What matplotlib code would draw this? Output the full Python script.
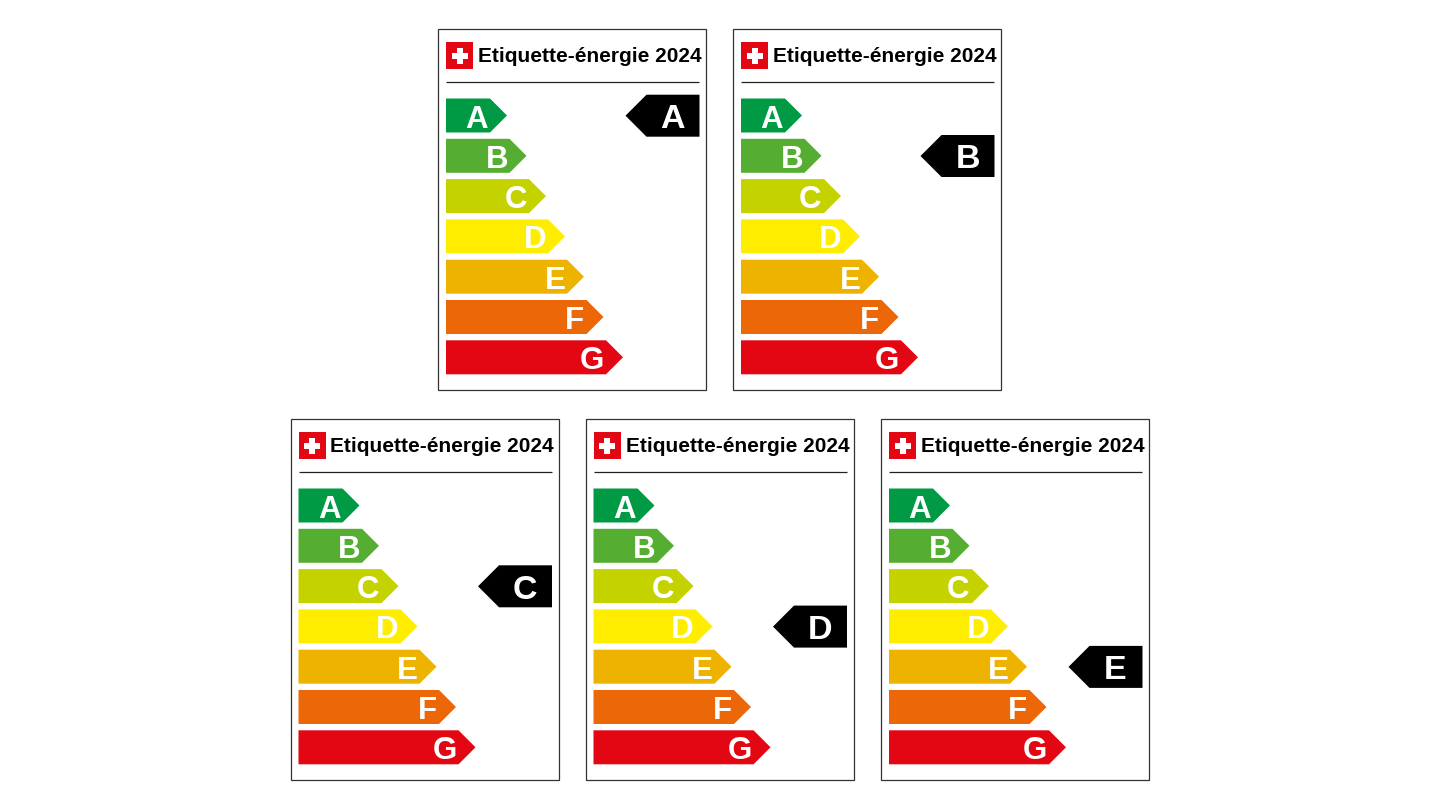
import matplotlib
matplotlib.use("Agg")
import matplotlib.pyplot as plt
from matplotlib.patches import Polygon, Rectangle

# energy classes, bar length in px (tip to tail) and colours
classes = ["A", "B", "C", "D", "E", "F", "G"]
bar_lengths = [61, 80.5, 100, 119, 138, 157.5, 177]
bar_colors = ["#009A44", "#55AE32", "#C4D200", "#FFED00", "#EEB200", "#EC6707", "#E30613"]
# letters are not centred the same way on every arrow
letter_shift = [0, 0.5, -0.5, 0, 1, 1, -1]

title = "Etiquette-énergie 2024"
ratings = ["A", "B", "C", "D", "E"]
card_left = [438, 733, 290.5, 585.5, 881]
card_top = [29, 29, 419, 419, 419]

plt.rcParams['font.family'] = ['Liberation Sans', 'DejaVu Sans']

fig = plt.figure(figsize=(14.4, 8.1), dpi=100)
ax = fig.add_axes([0, 0, 1, 1])
ax.set_xlim(0, 1440)
ax.set_ylim(810, 0)
ax.axis("off")


def draw_card(x0, y0, rating):
    # frame
    ax.add_patch(Rectangle((x0, y0), 268, 361, fc="white", ec="#333333", lw=0.9))

    # swiss flag
    fx = x0 + 8
    fy = y0 + 13
    ax.add_patch(Rectangle((fx, fy), 27, 27, fc="#E30613", ec="none"))
    ax.add_patch(Rectangle((fx + 10.5, fy + 5.5), 6, 16, fc="white", ec="none"))
    ax.add_patch(Rectangle((fx + 5.5, fy + 10.5), 16, 6, fc="white", ec="none"))

    ax.text(x0 + 40, y0 + 28, title, fontsize=15, fontweight="bold",
            ha="left", va="center", color="black")
    ax.plot([x0 + 8, x0 + 261], [y0 + 53, y0 + 53], color="#222222", lw=0.9,
            solid_capstyle="butt")

    # class arrows
    for i, (c, length, col) in enumerate(zip(classes, bar_lengths, bar_colors)):
        top = y0 + 69.5 + i * 40.3
        bot = top + 34
        left = x0 + 8
        tip = left + length
        ax.add_patch(Polygon([(left, top), (tip - 17, top), (tip, (top + bot) / 2),
                              (tip - 17, bot), (left, bot)], fc=col, ec="none"))
        ax.text(tip - 30 + letter_shift[i], (top + bot) / 2 + 0.5, c, fontsize=22.5,
                fontweight="bold", color="white", ha="center", va="center_baseline")

    # black rating arrow, lines up with its own class
    idx = classes.index(rating)
    mid = y0 + 86.7 + idx * 40.3
    right = x0 + 261.5
    ax.add_patch(Polygon([(right, mid - 21), (right - 53, mid - 21), (right - 74, mid),
                          (right - 53, mid + 21), (right, mid + 21)], fc="black", ec="none"))
    ax.text(right - 27, mid + 0.5, rating, fontsize=24.5, fontweight="bold",
            color="white", ha="center", va="center_baseline")


for x0, y0, r in zip(card_left, card_top, ratings):
    draw_card(x0, y0, r)

fig.savefig("out.png", dpi=100, facecolor="white")
